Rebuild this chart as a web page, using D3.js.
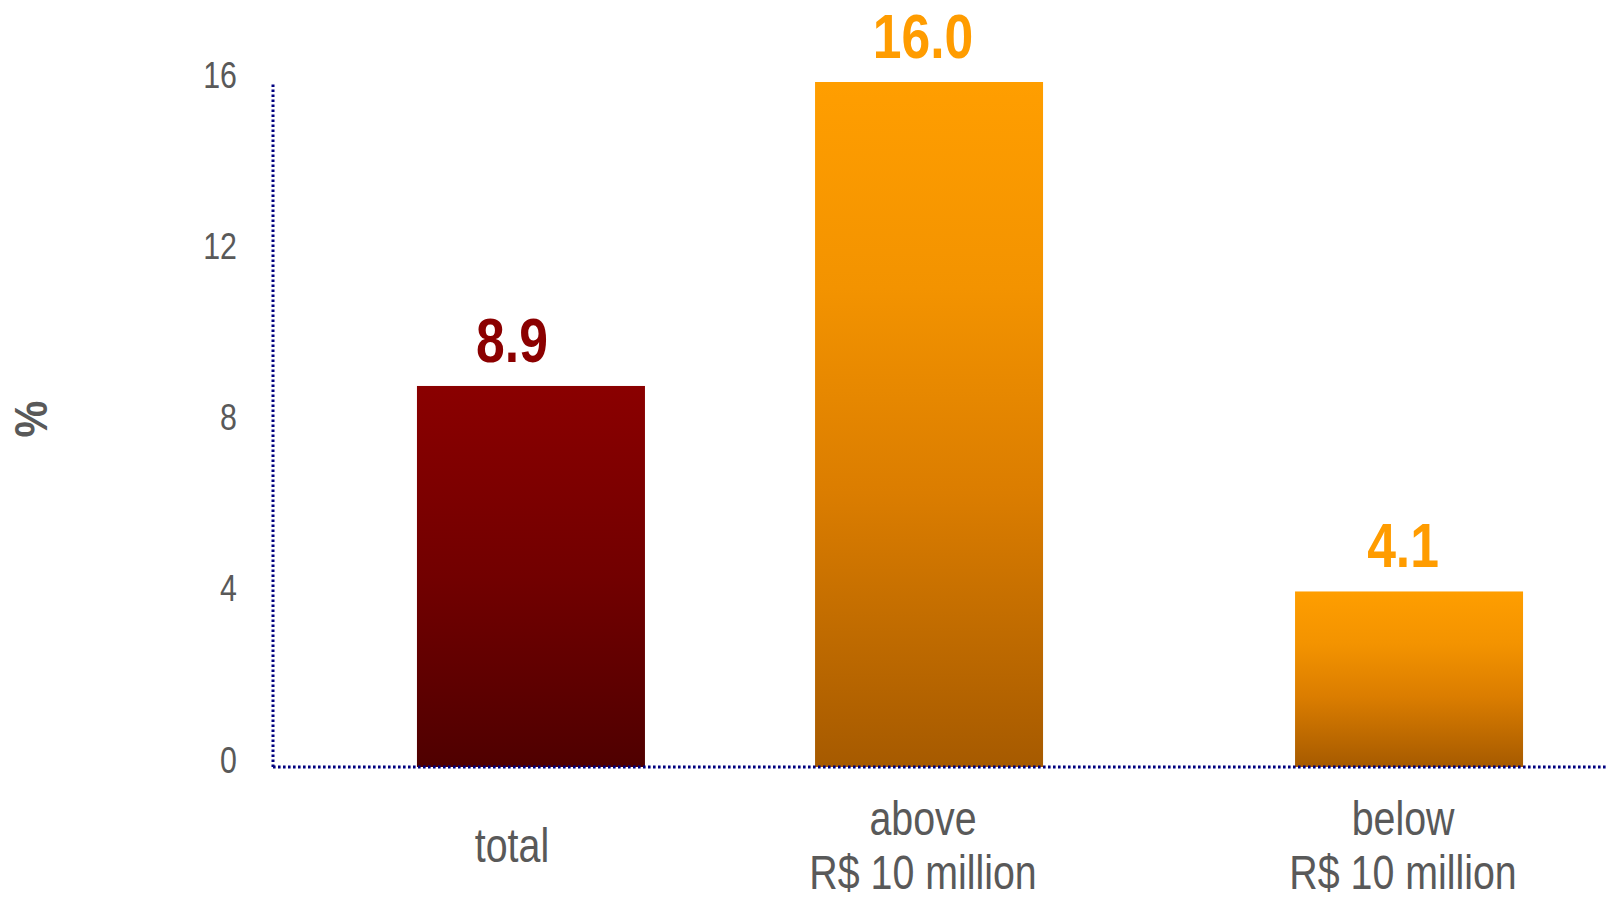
<!DOCTYPE html>
<html>
<head>
<meta charset="utf-8">
<script src="https://cdn.jsdelivr.net/npm/d3@7"></script>
<style>
  html, body { margin: 0; padding: 0; background: #ffffff; }
  svg { display: block; }
  text { font-family: "Liberation Sans", Arial, sans-serif; }
</style>
</head>
<body>
<svg id="chart" width="1608" height="897"></svg>
<script>
// Share of companies, by revenue size
const categories = ["total", "above R$ 10 million", "below R$ 10 million"];
const categoryLines = [["total"], ["above", "R$ 10 million"], ["below", "R$ 10 million"]];
const seriesNames = ["by revenue", "total"];
const totalValues = [8.9, null, null];
const revenueValues = [null, 16.0, 4.1];
const yTicks = [0, 4, 8, 12, 16];
const yLabel = "%";

const plot = { left: 273, right: 1608, top: 82, bottom: 767 };
const narrow = 0.82; // horizontal squeeze for a narrow-face look

const svg = d3.select("#chart");

// Vertical gradients for the two series
const defs = svg.append("defs");
function gradient(id, stops) {
  const g = defs.append("linearGradient").attr("id", id)
    .attr("x1", 0).attr("y1", 0).attr("x2", 0).attr("y2", 1);
  stops.forEach(([o, c]) => g.append("stop").attr("offset", o).attr("stop-color", c));
}
gradient("gradTotal", [[0, "#8a0000"], [0.5, "#720000"], [1, "#4f0000"]]);
gradient("gradRevenue", [[0, "#ff9e00"], [0.3, "#f39300"], [0.6, "#db7d00"], [1, "#a65a00"]]);

const seriesStyle = {
  "total": { fill: "url(#gradTotal)", label: "#8b0000", shift: -19, values: totalValues },
  "by revenue": { fill: "url(#gradRevenue)", label: "#ff9c00", shift: -6, values: revenueValues }
};

// Scales: categories, then series within a category (overlapping clusters)
const x = d3.scaleBand().domain(categories).range([250, 1690]).paddingInner(0).paddingOuter(0);
const xs = d3.scalePoint().domain(seriesNames).range([0, x.bandwidth()]).padding(2.43);
const barWidth = 228;
const y = d3.scaleLinear().domain([0, 16]).range([plot.bottom, plot.top]);

// Place a squeezed text at (px, py)
function placeText(sel, px, py) {
  return sel.attr("transform", `translate(${px},${py}) scale(${narrow},1)`);
}

// Bars
const barData = [];
seriesNames.forEach(s => {
  seriesStyle[s].values.forEach((v, i) => {
    if (v != null) barData.push({ series: s, cat: categories[i], value: v });
  });
});
const cx = d => x(d.cat) + xs(d.series);
const labelX = d => cx(d) + seriesStyle[d.series].shift;

svg.append("g").selectAll("rect").data(barData).join("rect")
  .attr("x", d => cx(d) - barWidth / 2)
  .attr("y", d => y(d.value))
  .attr("width", barWidth)
  .attr("height", d => y(0) - y(d.value))
  .attr("fill", d => seriesStyle[d.series].fill);

// Value labels above the bars
svg.append("g").selectAll("text").data(barData).join("text")
  .each(function(d) { placeText(d3.select(this), labelX(d), y(d.value) - 24); })
  .attr("text-anchor", "middle")
  .attr("font-size", 63)
  .attr("font-weight", "bold")
  .attr("fill", d => seriesStyle[d.series].label)
  .text(d => d.value.toFixed(1));

// Dotted axis lines
const axisG = svg.append("g")
  .attr("stroke", "#000080").attr("stroke-width", 3)
  .attr("stroke-dasharray", "2.6,2.4").attr("fill", "none");
axisG.append("line").attr("x1", plot.left).attr("x2", plot.left)
  .attr("y1", y(0)).attr("y2", y(16));
axisG.append("line").attr("x1", plot.left).attr("x2", plot.right)
  .attr("y1", y(0)).attr("y2", y(0));

// Y tick labels
svg.append("g").selectAll("text").data(yTicks).join("text")
  .each(function(d) { placeText(d3.select(this), 237, y(d) + 5.5); })
  .attr("text-anchor", "end")
  .attr("font-size", 37)
  .attr("fill", "#595959")
  .text(d => d);

// Y axis title
svg.append("text")
  .attr("transform", "translate(47,419) rotate(-90) scale(0.9,1)")
  .attr("text-anchor", "middle")
  .attr("font-size", 46)
  .attr("font-weight", "bold")
  .attr("fill", "#595959")
  .text(yLabel);

// Category labels, centred as a block below the axis
const labelMid = 859, lineGap = 54;
const catLabelX = i => labelX(barData.find(b => b.cat === categories[i]));
const catG = svg.append("g");
categoryLines.forEach((lines, i) => {
  const first = labelMid + 3 - (lines.length - 1) * lineGap / 2;
  lines.forEach((ln, j) => {
    placeText(catG.append("text"), catLabelX(i), first + j * lineGap)
      .attr("text-anchor", "middle")
      .attr("font-size", 48)
      .attr("fill", "#595959")
      .text(ln);
  });
});
</script>
</body>
</html>
